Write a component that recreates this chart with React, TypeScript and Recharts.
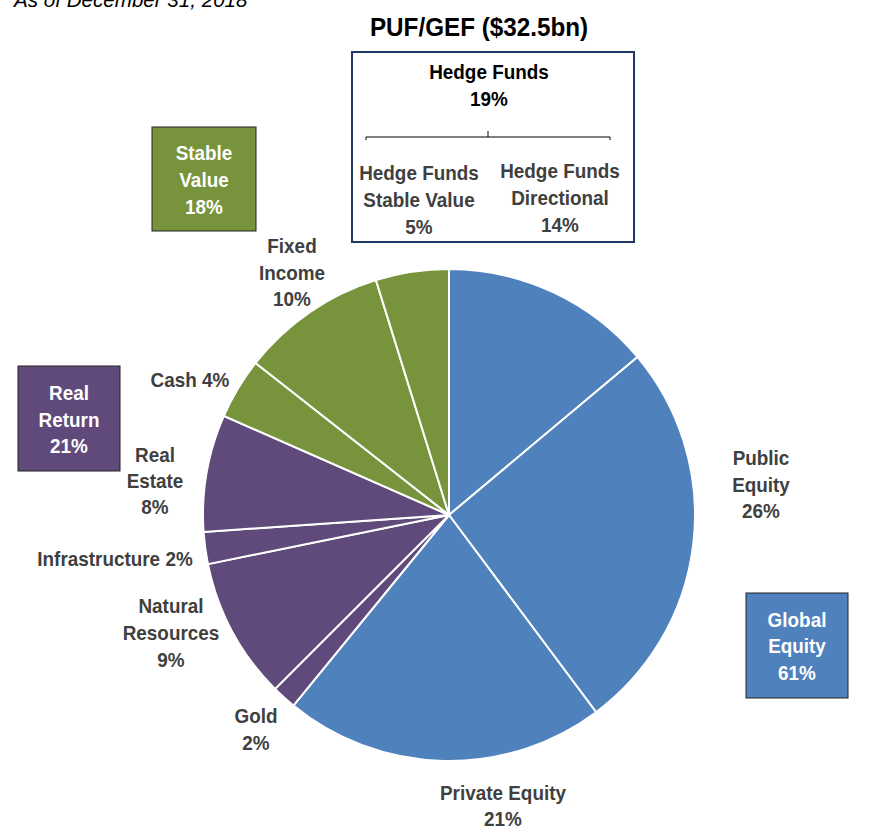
import React from "react";
import { PieChart, Pie, Cell, Customized } from "recharts";

const sliceNames = [
  "Hedge Funds Directional",
  "Public Equity",
  "Private Equity",
  "Gold",
  "Natural Resources",
  "Infrastructure",
  "Real Estate",
  "Cash",
  "Fixed Income",
  "Hedge Funds Stable Value",
];
const sliceValues = [13.9, 25.9, 21.1, 1.6, 9.3, 2.1, 7.7, 4.0, 9.6, 4.8];
const sliceLabelPcts = ["14%", "26%", "21%", "2%", "9%", "2%", "8%", "4%", "10%", "5%"];
const sliceGroups = ["equity", "equity", "equity", "real", "real", "real", "real", "stable", "stable", "stable"];

const groupColors: Record<string, string> = {
  equity: "#4F81BD",
  real: "#604A7B",
  stable: "#77933C",
};

const groupPcts = ["61%", "21%", "18%"];
const hedgeName = "Hedge Funds";
const hedgePct = "19%";

const title = "PUF/GEF ($32.5bn)";
const subtitle = "As of December 31, 2018";

const data = sliceNames.map((name, i) => ({ name, value: sliceValues[i], group: sliceGroups[i] }));

const FONT = "'Liberation Sans Narrow', 'Arial Narrow', 'Liberation Sans', Arial, sans-serif";
const GRAY = "#404040";
const SX = 0.9;

type Line = { t: string; x: number; y: number };

function NText({ t, x, y, fill, size = 21, sx = SX, anchor = "middle" }: { t: string; x: number; y: number; fill: string; size?: number; sx?: number; anchor?: string }) {
  return (
    <text
      transform={`translate(${x},${y}) scale(${sx},1)`}
      x={0}
      y={0}
      fill={fill}
      fontSize={size}
      fontWeight="bold"
      fontFamily={FONT}
      textAnchor={anchor as any}
    >
      {t}
    </text>
  );
}

function TextBlock({ lines, fill }: { lines: Line[]; fill: string }) {
  return (
    <g>
      {lines.map((l, i) => (
        <NText key={i} t={l.t} x={l.x} y={l.y} fill={fill} />
      ))}
    </g>
  );
}

function Overlay() {
  return (
    <g>
      <text x={14} y={7} fontSize={20.6} fontStyle="italic" fontFamily="'Liberation Sans', Arial, sans-serif" fill="#000">
        {subtitle}
      </text>
      <NText t={title} x={479} y={36} size={25} sx={0.97} fill="#000" />

      {/* Hedge funds box */}
      <rect x={352} y={52} width={282} height={190} fill="#fff" stroke="#1F3864" strokeWidth={2} />
      <TextBlock fill="#000" lines={[{ t: hedgeName, x: 489, y: 79 }, { t: hedgePct, x: 489, y: 106 }]} />
      <path d="M366,140 L366,137 L610,137 L610,140 M488,137 L488,131" stroke="#000" strokeWidth={1} fill="none" />
      <TextBlock
        fill={GRAY}
        lines={[
          { t: "Hedge Funds", x: 419, y: 180 },
          { t: "Stable Value", x: 419, y: 207 },
          { t: sliceLabelPcts[9], x: 419, y: 234 },
        ]}
      />
      <TextBlock
        fill={GRAY}
        lines={[
          { t: "Hedge Funds", x: 560, y: 178 },
          { t: "Directional", x: 560, y: 205 },
          { t: sliceLabelPcts[0], x: 560, y: 232 },
        ]}
      />

      {/* Group boxes */}
      <rect x={152} y={127} width={104} height={104} fill={groupColors.stable} stroke="#222" strokeWidth={1} />
      <TextBlock
        fill="#fff"
        lines={[
          { t: "Stable", x: 204, y: 160 },
          { t: "Value", x: 204, y: 187 },
          { t: groupPcts[2], x: 204, y: 214 },
        ]}
      />
      <rect x={18} y={366} width={102} height={105} fill={groupColors.real} stroke="#222" strokeWidth={1} />
      <TextBlock
        fill="#fff"
        lines={[
          { t: "Real", x: 69, y: 400 },
          { t: "Return", x: 69, y: 427 },
          { t: groupPcts[1], x: 69, y: 453 },
        ]}
      />
      <rect x={746} y={593} width={102} height={105} fill={groupColors.equity} stroke="#222" strokeWidth={1} />
      <TextBlock
        fill="#fff"
        lines={[
          { t: "Global", x: 797, y: 627 },
          { t: "Equity", x: 797, y: 653 },
          { t: groupPcts[0], x: 797, y: 680 },
        ]}
      />

      {/* Slice labels */}
      <TextBlock
        fill={GRAY}
        lines={[
          { t: "Public", x: 761, y: 465 },
          { t: "Equity", x: 761, y: 492 },
          { t: sliceLabelPcts[1], x: 761, y: 518 },
        ]}
      />
      <TextBlock
        fill={GRAY}
        lines={[
          { t: sliceNames[2], x: 503, y: 800 },
          { t: sliceLabelPcts[2], x: 503, y: 826 },
        ]}
      />
      <TextBlock
        fill={GRAY}
        lines={[
          { t: sliceNames[3], x: 256, y: 723 },
          { t: sliceLabelPcts[3], x: 256, y: 750 },
        ]}
      />
      <TextBlock
        fill={GRAY}
        lines={[
          { t: "Natural", x: 171, y: 613 },
          { t: "Resources", x: 171, y: 640 },
          { t: sliceLabelPcts[4], x: 171, y: 667 },
        ]}
      />
      <TextBlock fill={GRAY} lines={[{ t: `${sliceNames[5]} ${sliceLabelPcts[5]}`, x: 115, y: 566 }]} />
      <TextBlock
        fill={GRAY}
        lines={[
          { t: "Real", x: 155, y: 462 },
          { t: "Estate", x: 155, y: 488 },
          { t: sliceLabelPcts[6], x: 155, y: 514 },
        ]}
      />
      <TextBlock fill={GRAY} lines={[{ t: `${sliceNames[7]} ${sliceLabelPcts[7]}`, x: 190, y: 387 }]} />
      <TextBlock
        fill={GRAY}
        lines={[
          { t: "Fixed", x: 292, y: 253 },
          { t: "Income", x: 292, y: 280 },
          { t: sliceLabelPcts[8], x: 292, y: 306 },
        ]}
      />
    </g>
  );
}

export default function App() {
  return (
    <div style={{ position: "absolute", left: 0, top: 0, width: 873, height: 829, background: "#fff" }}>
      <PieChart width={873} height={829} margin={{ top: 0, right: 0, bottom: 0, left: 0 }}>
        <Pie
          data={data}
          dataKey="value"
          nameKey="name"
          cx={449}
          cy={515}
          outerRadius={246}
          startAngle={90}
          endAngle={-270}
          stroke="#fff"
          strokeWidth={2}
          isAnimationActive={false}
          label={false}
          labelLine={false}
        >
          {data.map((d, i) => (
            <Cell key={i} fill={groupColors[d.group]} />
          ))}
        </Pie>
        <Customized component={Overlay} />
      </PieChart>
    </div>
  );
}
